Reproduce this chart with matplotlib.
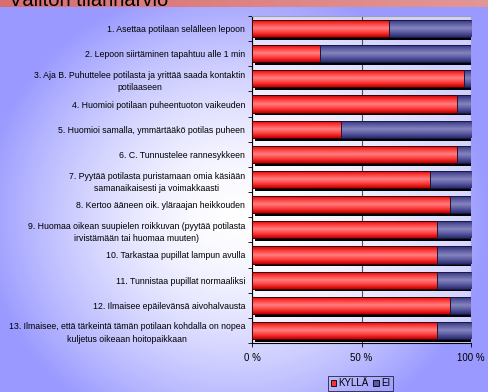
import matplotlib
matplotlib.use("Agg")
import matplotlib.pyplot as plt
import numpy as np
from matplotlib.colors import LinearSegmentedColormap, to_rgb
from matplotlib.patches import Patch, Rectangle

TITLE = "Välitön tilannarvio"
ITEMS = [
    "1. Asettaa potilaan selälleen lepoon",
    "2. Lepoon siirtäminen tapahtuu alle 1 min",
    "3. Aja B. Puhuttelee potilasta ja yrittää saada kontaktin\npotilaaseen",
    "4. Huomioi potilaan puheentuoton vaikeuden",
    "5. Huomioi samalla, ymmärtääkö potilas puheen",
    "6. C. Tunnustelee rannesykkeen",
    "7. Pyytää potilasta puristamaan omia käsiään\nsamanaikaisesti ja voimakkaasti",
    "8. Kertoo ääneen oik. yläraajan heikkouden",
    "9. Huomaa oikean suupielen roikkuvan (pyytää potilasta\nirvistämään tai huomaa muuten)",
    "10. Tarkastaa pupillat lampun avulla",
    "11. Tunnistaa pupillat normaaliksi",
    "12. Ilmaisee epäilevänsä aivohalvausta",
    "13. Ilmaisee, että tärkeintä tämän potilaan kohdalla on nopea\nkuljetus oikeaan hoitopaikkaan",
]
KYLLA = [62.5, 31.25, 96.9, 93.75, 40.6, 93.75, 81.25, 90.6, 84.4, 84.4, 84.4, 90.6, 84.4]
EI = [37.5, 68.75, 3.1, 6.25, 59.4, 6.25, 18.75, 9.4, 15.6, 15.6, 15.6, 9.4, 15.6]
SERIES = ["KYLLÄ", "EI"]
X_TICKS = [0, 50, 100]
X_LABELS = ["0 %", "50 %", "100 %"]

W, H = 489, 392
FONT = "Liberation Sans"

red_cmap = LinearSegmentedColormap.from_list(
    "red_bar", ["#c80000", "#ff3a3a", "#ff8080", "#ff3a3a", "#c00000"])
blue_cmap = LinearSegmentedColormap.from_list(
    "blue_bar", ["#2a2a78", "#5a5aa0", "#8585bd", "#5a5aa0", "#2a2a70"])


def background():
    # slide background: lavender with a white glow, salmon strip on top
    yy, xx = np.mgrid[0:H, 0:W]
    r = np.sqrt(((xx - 235) / 255.0) ** 2 + ((yy - 215) / 235.0) ** 2)
    t = np.clip(r, 0, 1) ** 1.6
    blue = np.array(to_rgb("#9999ff"))
    img = 1 - t[..., None] * (1 - blue)
    band = yy < 7
    left, right = np.array(to_rgb("#d86f6f")), np.array(to_rgb("#e39696"))
    frac = (xx / (W - 1))[..., None]
    img = np.where(band[..., None], left + (right - left) * frac, img)
    return img


fig = plt.figure(figsize=(W / 100, H / 100), dpi=100)
bg = fig.add_axes([0, 0, 1, 1], zorder=-10)
bg.imshow(background(), aspect="auto", interpolation="bilinear")
bg.axis("off")

# slide title, mostly above the visible area
fig.text(9 / W, 1 - 5.7 / H, TITLE, fontsize=14.5, family=FONT,
         color="black", va="baseline", ha="left")

ax = fig.add_axes([252 / W, 1 - 343 / H, 219 / W, 327 / H])
ax.set_facecolor((1, 1, 1, 0.55))

y = np.arange(len(ITEMS))
height = 0.68
shadow_dx, shadow_dy = 1.2, 0.11
totals = np.array(KYLLA) + np.array(EI)
ax.barh(y + shadow_dy, totals, height, left=shadow_dx, color="black", zorder=2)

bars_k = ax.barh(y, KYLLA, height, color="#ff5050", zorder=3)
bars_e = ax.barh(y, EI, height, left=KYLLA, color="#6060a8", zorder=3)

grad = np.linspace(0, 1, 64).reshape(-1, 1)
for bars, cmap, edge in [(bars_k, red_cmap, "#400000"), (bars_e, blue_cmap, "#1a1a40")]:
    for bar in bars:
        x0, y0 = bar.get_x(), bar.get_y()
        w, h = bar.get_width(), bar.get_height()
        im = ax.imshow(grad, cmap=cmap, aspect="auto", extent=(x0, x0 + w, y0 + h, y0),
                       interpolation="bilinear", zorder=3.2)
        im.set_clip_path(bar)
        ax.add_patch(Rectangle((x0, y0), w, h, fill=False, ec=edge, lw=0.7, zorder=4))

ax.set_xlim(0, 100)
ax.set_ylim(len(ITEMS) - 0.5, -0.5)
ax.set_xticks(X_TICKS)
ax.set_xticklabels(X_LABELS, family=FONT, fontsize=7)
ax.set_yticks(y)
ax.set_yticklabels(ITEMS, family=FONT, fontsize=6.3, multialignment="center",
                   linespacing=1.5)
ax.set_yticks(np.arange(len(ITEMS) + 1) - 0.5, minor=True)
ax.tick_params(axis="y", which="major", length=0, pad=5)
ax.tick_params(axis="y", which="minor", length=3, width=0.6, color="black")
ax.tick_params(axis="x", which="major", length=3, width=0.6, color="black", pad=4.5)

ax.xaxis.grid(True, color="#505050", lw=0.8)
ax.set_axisbelow(True)
ax.spines["right"].set_visible(False)
ax.spines["top"].set_color("#a0a0a0")
ax.spines["left"].set_linewidth(0.8)
ax.spines["bottom"].set_linewidth(0.8)

handles = [Patch(facecolor="#ff3030", edgecolor="black", lw=0.6),
           Patch(facecolor="#5a5aa0", edgecolor="black", lw=0.6)]
leg = fig.legend(handles, SERIES, loc="center", ncol=2,
                 bbox_to_anchor=(360.5 / W, 1 - 383.5 / H),
                 prop={"family": FONT, "size": 7}, frameon=True, fancybox=False,
                 handlelength=0.6, handleheight=0.6, handletextpad=0.2,
                 columnspacing=0.5, borderpad=0.3, borderaxespad=0)
leg.get_frame().set_facecolor("none")
leg.get_frame().set_edgecolor("black")
leg.get_frame().set_linewidth(0.6)

fig.savefig("out.png", dpi=100)
